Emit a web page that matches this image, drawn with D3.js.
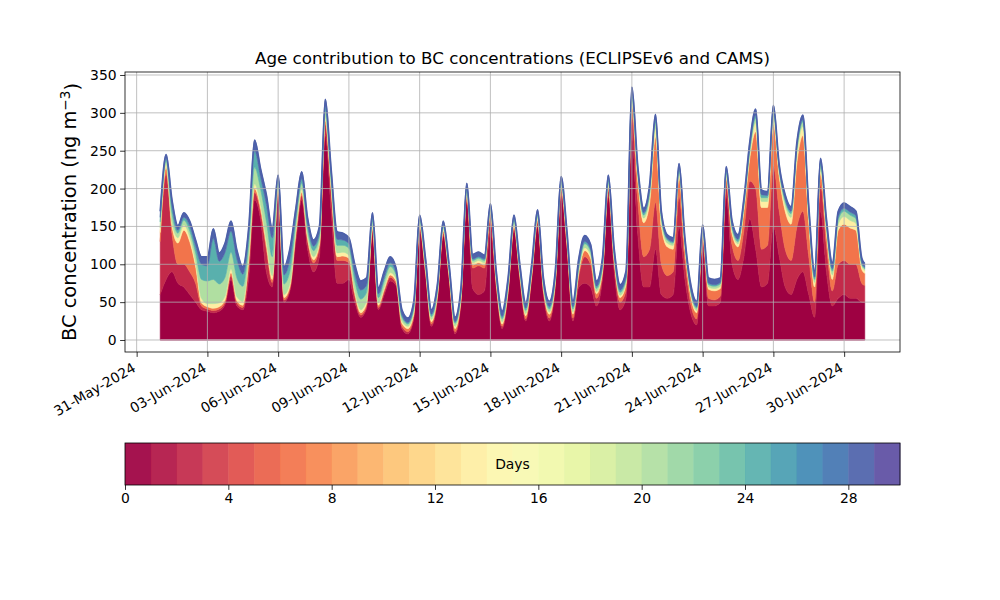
<!DOCTYPE html>
<html>
<head>
<meta charset="utf-8">
<script src="https://cdn.jsdelivr.net/npm/d3@7"></script>
<style>
  body { margin: 0; background: #fff; }
  svg { font-family: "DejaVu Sans", sans-serif; }
</style>
</head>
<body>
<svg id="chart" width="1000" height="600"></svg>
<script>
// time steps: hours after 01-Jun-2024 00:00 UTC (6-hourly, last one 30-Jun 21:00)
const hoursFromStart = d3.range(0, 720, 6).concat([717]);

// BC contribution (ng m-3) by age class
const age0to1 = [
  60, 80, 90, 75, 70, 60, 50, 40, 38, 36, 38, 47, 80, 45, 40, 82, 185, 160, 90, 70,
  190, 50, 65, 130, 185, 120, 90, 110, 270, 170, 75, 75, 80, 50, 30, 42, 140, 40, 60, 78,
  72, 15, 8, 28, 145, 86, 18, 52, 138, 80, 8, 48, 185, 68, 60, 65, 145, 68, 15, 60,
  145, 80, 25, 80, 150, 60, 25, 70, 192, 120, 25, 70, 75, 70, 45, 80, 190, 90, 40, 55,
  272, 140, 70, 70, 120, 60, 55, 60, 150, 80, 35, 20, 125, 45, 45, 50, 190, 100, 80, 110,
  160, 120, 70, 75, 150, 110, 70, 60, 80, 90, 60, 30, 170, 90, 45, 55, 60, 55, 55, 50, 50
];
const age1to4 = [
  70, 140, 50, 25, 30, 30, 25, 5, 3, 3, 3, 3, 5, 4, 3, 15, 10, 10, 30, 6,
  8, 3, 3, 8, 6, 10, 12, 12, 15, 25, 30, 30, 22, 8, 3, 3, 5, 3, 4, 5,
  3, 3, 3, 3, 3, 3, 3, 3, 3, 3, 3, 3, 4, 27, 38, 30, 18, 5, 3, 3,
  3, 3, 3, 3, 5, 4, 4, 3, 6, 5, 4, 15, 35, 30, 10, 6, 8, 10, 10, 10,
  27, 45, 40, 50, 62, 40, 30, 30, 40, 25, 12, 8, 8, 10, 8, 8, 15, 25, 25, 35,
  50, 80, 50, 50, 80, 60, 50, 45, 70, 80, 50, 20, 35, 35, 20, 45, 45, 45, 45, 25, 22
];
const age4to10 = [
  12, 8, 10, 28, 45, 40, 22, 4, 3, 3, 3, 3, 4, 3, 3, 8, 5, 5, 6, 4,
  4, 3, 3, 4, 4, 4, 4, 4, 5, 5, 5, 6, 6, 4, 3, 3, 3, 3, 3, 3,
  3, 4, 4, 3, 3, 3, 3, 3, 3, 3, 4, 3, 3, 4, 4, 4, 4, 3, 3, 3,
  3, 3, 4, 3, 3, 3, 5, 3, 3, 3, 5, 5, 8, 8, 6, 4, 4, 5, 6, 8,
  12, 25, 45, 60, 86, 50, 38, 30, 25, 15, 10, 8, 5, 12, 12, 10, 8, 15, 18, 25,
  30, 75, 55, 50, 55, 45, 50, 48, 85, 100, 45, 20, 15, 15, 15, 45, 48, 48, 45, 18, 16
];
const age10to16 = [
  6, 5, 5, 7, 7, 6, 6, 6, 4, 6, 5, 5, 5, 5, 5, 6, 6, 5, 6, 5,
  4, 4, 4, 4, 4, 4, 4, 4, 4, 4, 5, 5, 4, 4, 4, 4, 3, 3, 3, 3,
  3, 3, 3, 3, 3, 3, 3, 3, 3, 3, 3, 3, 3, 3, 3, 3, 3, 3, 3, 3,
  3, 3, 3, 3, 3, 3, 3, 3, 3, 3, 3, 3, 4, 4, 3, 3, 3, 3, 3, 3,
  5, 6, 6, 8, 12, 7, 5, 5, 5, 4, 4, 3, 3, 3, 3, 3, 3, 4, 4, 5,
  6, 12, 8, 8, 10, 6, 8, 9, 12, 12, 8, 6, 6, 6, 6, 8, 10, 10, 9, 5, 4
];
const age16to22 = [
  8, 4, 12, 6, 6, 8, 12, 25, 30, 32, 25, 25, 22, 25, 20, 15, 22, 20, 25, 25,
  4, 14, 16, 10, 8, 8, 8, 7, 8, 8, 10, 9, 9, 12, 14, 11, 6, 7, 8, 8,
  5, 5, 3, 5, 4, 4, 4, 4, 3, 4, 4, 4, 4, 3, 3, 3, 3, 4, 4, 4,
  4, 3, 4, 3, 3, 4, 4, 4, 4, 4, 4, 4, 5, 5, 4, 4, 4, 4, 4, 4,
  5, 5, 4, 6, 7, 5, 4, 3, 4, 3, 3, 3, 3, 3, 3, 3, 4, 4, 3, 3,
  5, 6, 5, 5, 5, 3, 5, 5, 6, 6, 5, 4, 5, 5, 5, 6, 7, 7, 6, 2, 2
];
const age22to26 = [
  6, 3, 10, 4, 4, 7, 9, 20, 20, 54, 30, 33, 28, 25, 16, 12, 22, 16, 22, 25,
  3, 12, 16, 8, 6, 7, 6, 5, 6, 5, 8, 7, 6, 10, 12, 9, 4, 5, 5, 5,
  3, 3, 2, 3, 2, 3, 3, 2, 2, 2, 2, 2, 2, 2, 2, 2, 2, 2, 3, 3,
  2, 2, 3, 2, 2, 2, 3, 2, 2, 2, 3, 3, 3, 3, 3, 3, 3, 3, 3, 3,
  4, 3, 3, 4, 4, 3, 2, 2, 3, 2, 2, 2, 2, 2, 2, 2, 3, 3, 3, 3,
  4, 4, 4, 3, 4, 2, 3, 3, 3, 3, 3, 3, 3, 3, 3, 4, 4, 4, 4, 2, 2
];
const age26to30 = [
  8, 5, 8, 6, 6, 6, 8, 10, 12, 13, 11, 12, 13, 12, 10, 10, 14, 11, 13, 13,
  5, 11, 14, 10, 9, 8, 8, 8, 10, 8, 10, 9, 8, 12, 12, 10, 7, 8, 8, 8,
  6, 7, 6, 6, 5, 6, 6, 6, 5, 5, 6, 6, 6, 6, 6, 5, 5, 6, 7, 6,
  5, 6, 7, 6, 6, 6, 7, 6, 6, 6, 7, 8, 8, 6, 7, 8, 6, 6, 7, 8,
  9, 6, 6, 7, 7, 5, 5, 5, 6, 6, 7, 7, 6, 7, 7, 6, 6, 6, 6, 6,
  7, 8, 6, 5, 6, 5, 6, 6, 6, 6, 7, 8, 6, 6, 8, 7, 7, 7, 6, 6, 5
];

// colour bin (of 30) used for each age band
const ageBands = [
  { key: 'age0to1', values: age0to1, bin: 0 },
  { key: 'age1to4', values: age1to4, bin: 2 },
  { key: 'age4to10', values: age4to10, bin: 6 },
  { key: 'age10to16', values: age10to16, bin: 13 },
  { key: 'age16to22', values: age16to22, bin: 20 },
  { key: 'age22to26', values: age22to26, bin: 24 },
  { key: 'age26to30', values: age26to30, bin: 28 }
];

const nDays = 30;
const yTicks = [0, 50, 100, 150, 200, 250, 300, 350];
const dateTicks = ['2024-05-31', '2024-06-03', '2024-06-06', '2024-06-09', '2024-06-12', '2024-06-15',
  '2024-06-18', '2024-06-21', '2024-06-24', '2024-06-27', '2024-06-30'];
const dayTicks = [0, 4, 8, 12, 16, 20, 24, 28];

const start = Date.UTC(2024, 5, 1);
const times = hoursFromStart.map(h => new Date(start + h * 3600e3));

const rows = times.map((t, i) => {
  const row = { time: t };
  ageBands.forEach(b => { row[b.key] = b.values[i]; });
  return row;
});

const binColor = i => d3.interpolateSpectral(i / (nDays - 1));

const svg = d3.select('#chart');
const margin = { top: 72, right: 100, bottom: 248, left: 125 };
const width = 1000 - margin.left - margin.right;
const height = 600 - margin.top - margin.bottom;

const g = svg.append('g').attr('transform', `translate(${margin.left},${margin.top})`);

const x = d3.scaleUtc()
  .domain([new Date(start - 1.494 * 864e5), new Date(start + 31.369 * 864e5)])
  .range([0, width]);

const y = d3.scaleLinear()
  .domain([-15.85, 353.96])
  .range([height, 0]);

// Stacked areas
const stack = d3.stack().keys(ageBands.map(b => b.key));
const series = stack(rows);

const area = d3.area()
  .curve(d3.curveMonotoneX)
  .x(d => x(d.data.time))
  .y0(d => y(d[0]))
  .y1(d => y(d[1]));

g.selectAll('.band')
  .data(series)
  .enter()
  .append('path')
  .attr('class', 'band')
  .attr('fill', (d, i) => binColor(ageBands[i].bin))
  .attr('stroke', (d, i) => binColor(ageBands[i].bin))
  .attr('stroke-width', 0.6)
  .attr('d', area);

// darker edge on top of the oldest band
g.append('path')
  .datum(series[series.length - 1])
  .attr('fill', 'none')
  .attr('stroke', '#4c5fa9')
  .attr('stroke-width', 1.6)
  .attr('d', d3.line().curve(d3.curveMonotoneX).x(d => x(d.data.time)).y(d => y(d[1])));

// thin line along the zero level
g.append('path')
  .datum(rows)
  .attr('fill', 'none')
  .attr('stroke', '#d483a4')
  .attr('stroke-width', 1.6)
  .attr('d', d3.line().x(d => x(d.time)).y(() => y(0)));

// Grid
const tickDates = dateTicks.map(s => new Date(s + 'T00:00:00Z'));
g.append('g')
  .selectAll('line')
  .data(tickDates)
  .enter()
  .append('line')
  .attr('x1', d => x(d)).attr('x2', d => x(d))
  .attr('y1', 0).attr('y2', height)
  .attr('stroke', '#b0b0b0').attr('stroke-width', 0.8);

g.append('g')
  .selectAll('line')
  .data(yTicks)
  .enter()
  .append('line')
  .attr('x1', 0).attr('x2', width)
  .attr('y1', d => y(d)).attr('y2', d => y(d))
  .attr('stroke', '#b0b0b0').attr('stroke-width', 0.8);

// Axes
const yAxis = g.append('g')
  .call(d3.axisLeft(y).tickValues(yTicks).tickSize(4.9).tickPadding(3.5));
yAxis.select('.domain').remove();
yAxis.selectAll('text').attr('font-size', 13.9).attr('fill', '#000').attr('font-family', 'DejaVu Sans');
yAxis.selectAll('line').attr('stroke', '#000').attr('stroke-width', 0.8);

const xAxis = g.append('g')
  .attr('transform', `translate(0,${height})`)
  .call(d3.axisBottom(x).tickValues(tickDates).tickSize(4.9).tickFormat(d3.utcFormat('%d-%b-%Y')));
xAxis.select('.domain').remove();
xAxis.selectAll('line').attr('stroke', '#000').attr('stroke-width', 0.8);
xAxis.selectAll('text')
  .attr('font-size', 13.9)
  .attr('font-family', 'DejaVu Sans')
  .attr('fill', '#000')
  .attr('text-anchor', 'end')
  .attr('y', 0)
  .attr('dy', '0.8em')
  .attr('transform', 'translate(-6,9) rotate(-30)');

g.append('rect')
  .attr('width', width).attr('height', height)
  .attr('fill', 'none').attr('stroke', '#000').attr('stroke-width', 0.8);

// Title and y label
svg.append('text')
  .attr('x', margin.left + width / 2)
  .attr('y', 64)
  .attr('text-anchor', 'middle')
  .attr('font-size', 16.7)
  .text('Age contribution to BC concentrations (ECLIPSEv6 and CAMS)');

const ylab = svg.append('text')
  .attr('transform', `translate(76,${margin.top + height / 2}) rotate(-90)`)
  .attr('text-anchor', 'middle')
  .attr('font-size', 19.4);
ylab.append('tspan').text('BC concentration (ng m');
ylab.append('tspan').attr('dy', '-0.45em').attr('font-size', 13.6).text('\u22123');
ylab.append('tspan').attr('dy', '0.45em').text(')');

// Colorbar
const cb = svg.append('g').attr('transform', 'translate(125,443)');
const cbHeight = 42;
const cx = d3.scaleLinear().domain([0, nDays]).range([0, width]);

cb.selectAll('rect.bin')
  .data(d3.range(nDays))
  .enter()
  .append('rect')
  .attr('class', 'bin')
  .attr('x', d => cx(d))
  .attr('width', d => cx(d + 1) - cx(d) + 0.4)
  .attr('height', cbHeight)
  .attr('fill', d => binColor(d))
  .attr('fill-opacity', 0.93);

cb.append('rect')
  .attr('width', width).attr('height', cbHeight)
  .attr('fill', 'none').attr('stroke', '#000').attr('stroke-width', 0.8);

const cbAxis = cb.append('g')
  .attr('transform', `translate(0,${cbHeight})`)
  .call(d3.axisBottom(cx).tickValues(dayTicks).tickSize(4.9).tickPadding(3.5));
cbAxis.select('.domain').remove();
cbAxis.selectAll('line').attr('stroke', '#000').attr('stroke-width', 0.8);
cbAxis.selectAll('text').attr('font-size', 13.9).attr('fill', '#000').attr('font-family', 'DejaVu Sans');

cb.append('text')
  .attr('x', width / 2)
  .attr('y', cbHeight / 2)
  .attr('dy', '0.35em')
  .attr('text-anchor', 'middle')
  .attr('font-size', 13.9)
  .text('Days');
</script>
</body>
</html>
